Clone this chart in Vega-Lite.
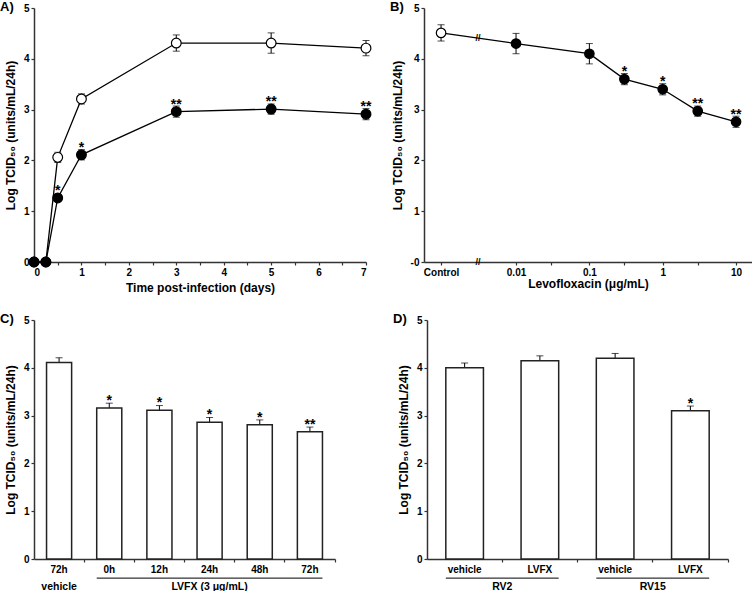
{
  "$schema": "https://vega.github.io/schema/vega-lite/v6.json",
  "padding": {"left": 0, "top": 1, "right": 0, "bottom": 0},
  "config": {
    "view": {"stroke": null},
    "font": "Liberation Sans",
    "axis": {"grid": false, "domainColor": "#333", "tickColor": "#333", "domainWidth": 1.5, "tickWidth": 1.2, "tickSize": 3, "labelFont": "Liberation Sans", "labelFontSize": 10, "labelFontWeight": "bold", "labelColor": "black", "labelPadding": 2, "titleFont": "Liberation Sans", "titleFontSize": 12, "titleFontWeight": "bold", "titleColor": "black", "labelOverlap": false},
    "title": {"font": "Liberation Sans", "fontSize": 13, "fontWeight": "bold", "anchor": "start", "frame": "group", "offset": 0, "color": "black"}
  },
  "spacing": 20,
  "vconcat": [
    {
      "spacing": 16,
      "hconcat": [
        {
          "width": 332, "height": 254,
          "title": {"text": "A)", "dx": -34, "dy": 15},
          "data": {"values": [
            {"t": 0, "v": 0, "err": 0, "grp": "vehicle", "star": ""},
            {"t": 0.25, "v": 0, "err": 0, "grp": "vehicle", "star": ""},
            {"t": 0.5, "v": 2.06, "err": 0.1, "grp": "vehicle", "star": ""},
            {"t": 1, "v": 3.21, "err": 0.1, "grp": "vehicle", "star": ""},
            {"t": 3, "v": 4.31, "err": 0.16, "grp": "vehicle", "star": ""},
            {"t": 5, "v": 4.31, "err": 0.2, "grp": "vehicle", "star": ""},
            {"t": 7, "v": 4.21, "err": 0.15, "grp": "vehicle", "star": ""},
            {"t": 0, "v": 0, "err": 0, "grp": "lvfx", "star": ""},
            {"t": 0.25, "v": 0, "err": 0, "grp": "lvfx", "star": ""},
            {"t": 0.5, "v": 1.26, "err": 0.05, "grp": "lvfx", "star": "*"},
            {"t": 1, "v": 2.11, "err": 0.1, "grp": "lvfx", "star": "*"},
            {"t": 3, "v": 2.96, "err": 0.11, "grp": "lvfx", "star": "**"},
            {"t": 5, "v": 3.01, "err": 0.1, "grp": "lvfx", "star": "**"},
            {"t": 7, "v": 2.91, "err": 0.11, "grp": "lvfx", "star": "**"}
          ]},
          "encoding": {
            "x": {"field": "t", "type": "quantitative", "scale": {"domain": [0, 7], "nice": false}, "axis": {"title": "Time post-infection (days)", "values": [0, 0.5, 1, 1.5, 2, 2.5, 3, 3.5, 4, 4.5, 5, 5.5, 6, 6.5, 7], "format": "~g", "labelExpr": "datum.value % 1 == 0 ? datum.label : ''", "titlePadding": 5}},
            "y": {"field": "v", "type": "quantitative", "scale": {"domain": [0, 5], "nice": false}, "axis": {"title": "Log TCID₅₀ (units/mL/24h)", "values": [0, 1, 2, 3, 4, 5], "titlePadding": 6}}
          },
          "layer": [
            {"mark": {"type": "errorbar", "ticks": {"size": 7}, "color": "black"}, "encoding": {"yError": {"field": "err"}, "detail": {"field": "grp"}}},
            {"mark": {"type": "line", "color": "black", "strokeWidth": 1.3}, "encoding": {"detail": {"field": "grp"}}},
            {"mark": {"type": "point", "filled": true, "size": 95, "stroke": "black", "strokeWidth": 1.2, "opacity": 1}, "encoding": {"fill": {"field": "grp", "type": "nominal", "scale": {"domain": ["vehicle", "lvfx"], "range": ["white", "black"]}, "legend": null}}},
            {"mark": {"type": "text", "fontSize": 14, "fontWeight": "bold", "baseline": "alphabetic", "dy": -3, "color": "black"}, "encoding": {"text": {"field": "star"}}}
          ]
        },
        {
          "width": 328, "height": 254,
          "title": {"text": "B)", "dx": -34, "dy": 15},
          "layer": [
            {
              "data": {"values": [
                {"conc": 0.00095, "v": 4.51, "err": 0.16, "grp": "control", "star": ""},
                {"conc": 0.01, "v": 4.3, "err": 0.2, "grp": "lvfx", "star": ""},
                {"conc": 0.1, "v": 4.1, "err": 0.2, "grp": "lvfx", "star": ""},
                {"conc": 0.3, "v": 3.6, "err": 0.11, "grp": "lvfx", "star": "*"},
                {"conc": 1, "v": 3.4, "err": 0.11, "grp": "lvfx", "star": "*"},
                {"conc": 3, "v": 2.97, "err": 0.1, "grp": "lvfx", "star": "**"},
                {"conc": 10, "v": 2.76, "err": 0.11, "grp": "lvfx", "star": "**"}
              ]},
              "encoding": {
                "x": {"field": "conc", "type": "quantitative", "scale": {"type": "log", "domain": [0.000556, 16.5], "nice": false}, "axis": {"title": "Levofloxacin (μg/mL)", "values": [0.00095, 0.01, 0.03, 0.1, 0.3, 1, 3, 10], "format": "~g", "labelExpr": "datum.value < 0.002 ? 'Control' : (datum.value == 0.03 || datum.value == 0.3 || datum.value == 3 ? '' : datum.label)", "titlePadding": 1}},
                "y": {"field": "v", "type": "quantitative", "scale": {"domain": [0, 5], "nice": false}, "axis": {"title": "Log TCID₅₀ (units/mL/24h)", "values": [0, 1, 2, 3, 4, 5], "labelExpr": "datum.value == 0 ? '-0' : datum.label", "titlePadding": 6}}
              },
              "layer": [
                {"mark": {"type": "errorbar", "ticks": {"size": 7}, "color": "black"}, "encoding": {"yError": {"field": "err"}}},
                {"mark": {"type": "line", "color": "black", "strokeWidth": 1.3}, "encoding": {}},
                {"mark": {"type": "point", "filled": true, "size": 90, "stroke": "black", "strokeWidth": 1.2, "opacity": 1}, "encoding": {"fill": {"field": "grp", "type": "nominal", "scale": {"domain": ["control", "lvfx"], "range": ["white", "black"]}, "legend": null}}},
                {"mark": {"type": "text", "fontSize": 14, "fontWeight": "bold", "baseline": "alphabetic", "dy": -3, "color": "black"}, "encoding": {"text": {"field": "star"}}}
              ]
            },
            {
              "data": {"values": [
                {"conc": 0.00303, "v": 4.4, "sym": "//"},
                {"conc": 0.00303, "v": 0, "sym": "//"}
              ]},
              "mark": {"type": "text", "fontSize": 9, "fontWeight": "bold", "baseline": "middle", "color": "black"},
              "encoding": {
                "x": {"field": "conc", "type": "quantitative"},
                "y": {"field": "v", "type": "quantitative"},
                "text": {"field": "sym"}
              }
            }
          ]
        }
      ]
    },
    {
      "spacing": 57,
      "hconcat": [
        {
          "width": 301, "height": 239,
          "title": {"text": "C)", "dx": -34, "dy": 15},
          "layer": [
            {
              "data": {"values": [
                {"cat": "vehicle 72h", "v": 4.11, "err": 0.1, "star": ""},
                {"cat": "0h", "v": 3.16, "err": 0.1, "star": "*"},
                {"cat": "12h", "v": 3.11, "err": 0.1, "star": "*"},
                {"cat": "24h", "v": 2.86, "err": 0.1, "star": "*"},
                {"cat": "48h", "v": 2.81, "err": 0.1, "star": "*"},
                {"cat": "72h", "v": 2.66, "err": 0.1, "star": "**"}
              ]},
              "encoding": {
                "x": {"field": "cat", "type": "nominal", "scale": {"domain": ["vehicle 72h", "0h", "12h", "24h", "48h", "72h"], "paddingInner": 0.5, "paddingOuter": 0.25}, "axis": {"title": null, "labelAngle": 0, "bandPosition": 1.5, "labelExpr": "datum.value == 'vehicle 72h' ? '72h' : (isString(datum.value) ? datum.value : '')"}},
                "y": {"field": "v", "type": "quantitative", "scale": {"domain": [0, 5], "nice": false}, "axis": {"title": "Log TCID₅₀ (units/mL/24h)", "values": [0, 1, 2, 3, 4, 5], "titlePadding": 6}}
              },
              "layer": [
                {"mark": {"type": "errorbar", "ticks": {"size": 7}, "color": "black"}, "encoding": {"yError": {"field": "err"}}},
                {"mark": {"type": "bar", "fill": "white", "stroke": "#222", "strokeWidth": 1.5}},
                {"mark": {"type": "text", "fontSize": 14, "fontWeight": "bold", "baseline": "alphabetic", "dy": -3, "color": "black"}, "encoding": {"text": {"field": "star"}}}
              ]
            },
            {
              "data": {"values": [
                {"cat": "vehicle 72h", "lab": "vehicle"},
                {"cat": "24h", "lab": "LVFX (3 μg/mL)"}
              ]},
              "mark": {"type": "text", "fontSize": 10.5, "fontWeight": "bold", "baseline": "middle", "color": "black"},
              "encoding": {
                "x": {"field": "cat", "type": "nominal"},
                "y": {"datum": -0.59},
                "text": {"field": "lab"}
              }
            },
            {
              "data": {"values": [{"from": "0h", "to": "72h"}]},
              "mark": {"type": "rule", "color": "black", "strokeWidth": 1},
              "encoding": {
                "x": {"field": "from", "type": "nominal", "bandPosition": 0},
                "x2": {"field": "to", "bandPosition": 1},
                "y": {"datum": -0.4}
              }
            }
          ]
        },
        {
          "width": 301, "height": 239,
          "title": {"text": "D)", "dx": -34, "dy": 15},
          "layer": [
            {
              "data": {"values": [
                {"cat": "RV2 vehicle", "v": 4.0, "err": 0.1, "star": ""},
                {"cat": "RV2 LVFX", "v": 4.15, "err": 0.1, "star": ""},
                {"cat": "RV15 vehicle", "v": 4.2, "err": 0.1, "star": ""},
                {"cat": "RV15 LVFX", "v": 3.1, "err": 0.1, "star": "*"}
              ]},
              "encoding": {
                "x": {"field": "cat", "type": "nominal", "scale": {"domain": ["RV2 vehicle", "RV2 LVFX", "RV15 vehicle", "RV15 LVFX"], "paddingInner": 0.5, "paddingOuter": 0.25}, "axis": {"title": null, "labelAngle": 0, "bandPosition": 1.5, "labelExpr": "isString(datum.value) ? slice(datum.value, indexof(datum.value, ' ') + 1) : ''"}},
                "y": {"field": "v", "type": "quantitative", "scale": {"domain": [0, 5], "nice": false}, "axis": {"title": "Log TCID₅₀ (units/mL/24h)", "values": [0, 1, 2, 3, 4, 5], "titlePadding": 6}}
              },
              "layer": [
                {"mark": {"type": "errorbar", "ticks": {"size": 7}, "color": "black"}, "encoding": {"yError": {"field": "err"}}},
                {"mark": {"type": "bar", "fill": "white", "stroke": "#222", "strokeWidth": 1.5}},
                {"mark": {"type": "text", "fontSize": 14, "fontWeight": "bold", "baseline": "alphabetic", "dy": -3, "color": "black"}, "encoding": {"text": {"field": "star"}}}
              ]
            },
            {
              "data": {"values": [
                {"cat": "RV2 vehicle", "lab": "RV2"},
                {"cat": "RV15 vehicle", "lab": "RV15"}
              ]},
              "mark": {"type": "text", "fontSize": 10.5, "fontWeight": "bold", "baseline": "middle", "color": "black"},
              "encoding": {
                "x": {"field": "cat", "type": "nominal", "bandPosition": 1.5},
                "y": {"datum": -0.59},
                "text": {"field": "lab"}
              }
            },
            {
              "data": {"values": [{"from": "RV2 vehicle", "to": "RV2 LVFX"}, {"from": "RV15 vehicle", "to": "RV15 LVFX"}]},
              "mark": {"type": "rule", "color": "black", "strokeWidth": 1},
              "encoding": {
                "x": {"field": "from", "type": "nominal", "bandPosition": 0},
                "x2": {"field": "to", "bandPosition": 1},
                "y": {"datum": -0.4}
              }
            }
          ]
        }
      ]
    }
  ]
}
